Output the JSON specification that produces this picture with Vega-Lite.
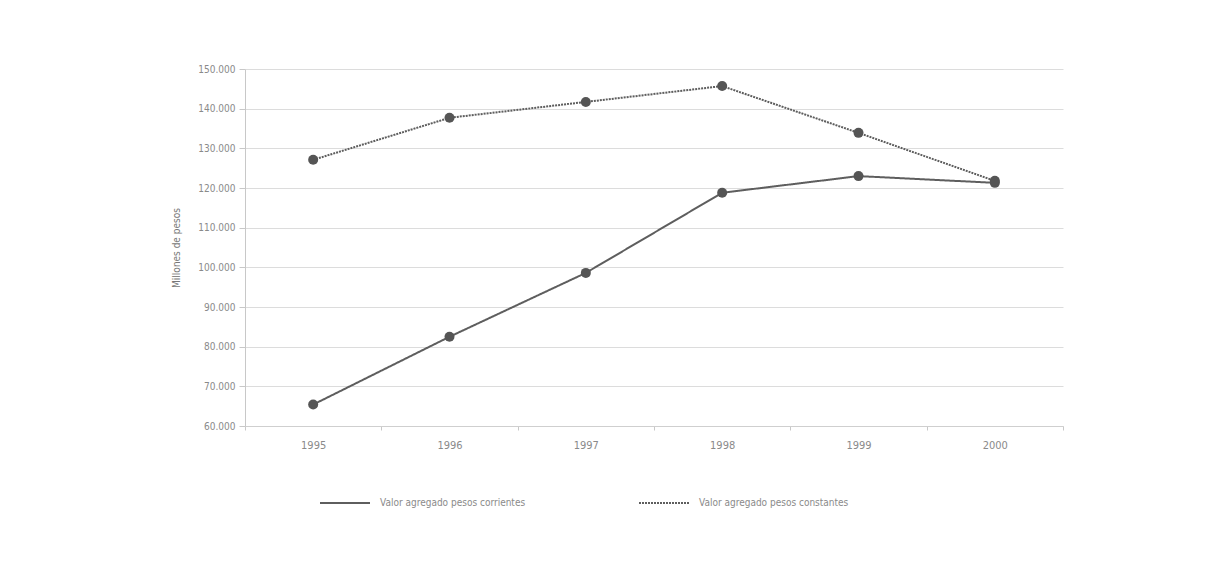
{
  "$schema": "https://vega.github.io/schema/vega-lite/v6.json",
  "width": 818,
  "height": 357,
  "autosize": {"type": "none"},
  "padding": {"left": 245, "top": 69, "right": 166, "bottom": 135},
  "background": "white",
  "config": {
    "locale": {"number": {"decimal": ",", "thousands": ".", "grouping": [3], "currency": ["$", ""]}},
    "font": "Liberation Sans Narrow, DejaVu Sans Condensed, sans-serif",
    "view": {"stroke": null},
    "axis": {"labelColor": "#8a8a8a", "titleColor": "#777", "domainColor": "#c8c8c8", "tickColor": "#c8c8c8", "gridColor": "#dcdcdc", "labelFontWeight": 300}
  },
  "data": {"values": [
    {"year": "1995", "serie": "Valor agregado pesos corrientes", "v": 65400},
    {"year": "1996", "serie": "Valor agregado pesos corrientes", "v": 82500},
    {"year": "1997", "serie": "Valor agregado pesos corrientes", "v": 98600},
    {"year": "1998", "serie": "Valor agregado pesos corrientes", "v": 118800},
    {"year": "1999", "serie": "Valor agregado pesos corrientes", "v": 123000},
    {"year": "2000", "serie": "Valor agregado pesos corrientes", "v": 121300},
    {"year": "1995", "serie": "Valor agregado pesos constantes", "v": 127100},
    {"year": "1996", "serie": "Valor agregado pesos constantes", "v": 137700},
    {"year": "1997", "serie": "Valor agregado pesos constantes", "v": 141700},
    {"year": "1998", "serie": "Valor agregado pesos constantes", "v": 145700},
    {"year": "1999", "serie": "Valor agregado pesos constantes", "v": 133900},
    {"year": "2000", "serie": "Valor agregado pesos constantes", "v": 121800}
  ]},
  "encoding": {
    "x": {"field": "year", "type": "ordinal", "title": null, "scale": {"type": "band", "paddingInner": 0, "paddingOuter": 0},
      "axis": {"labelAngle": 0, "grid": false, "tickBand": "extent", "tickSize": 4, "labelPadding": 9, "labelFontSize": 11, "domainColor": "#cfcfcf"}},
    "y": {"field": "v", "type": "quantitative", "title": "Millones de pesos",
      "scale": {"domain": [60000, 150000], "nice": false, "zero": false},
      "axis": {"values": [60000, 70000, 80000, 90000, 100000, 110000, 120000, 130000, 140000, 150000], "format": ",.0f", "labelFontSize": 10, "tickSize": 6, "labelPadding": 4, "titleFontSize": 10, "titleFontWeight": "normal", "titlePadding": 16, "domain": true}}
  },
  "layer": [
    {
      "mark": {"type": "line", "strokeWidth": 2},
      "encoding": {
        "color": {"field": "serie", "type": "nominal", "scale": {"domain": ["Valor agregado pesos corrientes", "Valor agregado pesos constantes"], "range": ["#5e5e5e", "#5e5e5e"]},
          "legend": {"orient": "none", "legendX": 74, "legendY": 408, "direction": "horizontal", "title": null, "symbolType": "stroke", "symbolSize": 2500, "symbolStrokeWidth": 2, "labelFontSize": 10, "labelColor": "#8a8a8a", "columnPadding": 109, "labelOffset": 9}},
        "strokeDash": {"field": "serie", "type": "nominal", "scale": {"domain": ["Valor agregado pesos corrientes", "Valor agregado pesos constantes"], "range": [[1, 0], [2, 1]]}, "legend": null}
      }
    },
    {
      "mark": {"type": "point", "filled": true, "size": 100, "opacity": 1, "color": "#555555"}
    }
  ]
}
